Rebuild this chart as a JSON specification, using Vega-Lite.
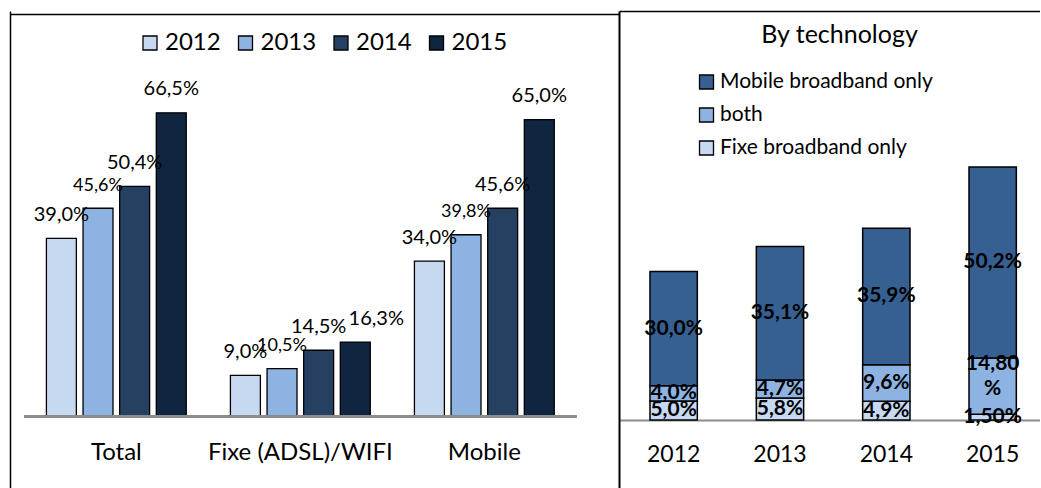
{
  "$schema": "https://vega.github.io/schema/vega-lite/v6.json",
  "padding": {"left": 10, "top": 11, "right": 0, "bottom": 0},
  "autosize": {"type": "pad"},
  "background": "white",
  "config": {
    "font": "Lato",
    "view": {"stroke": null},
    "axis": {"grid": false, "ticks": false, "title": null}
  },
  "datasets": {
    "access": [
      {"category": "Total", "year": "2012", "value": 39.0, "label": "39,0%"},
      {"category": "Total", "year": "2013", "value": 45.6, "label": "45,6%"},
      {"category": "Total", "year": "2014", "value": 50.4, "label": "50,4%"},
      {"category": "Total", "year": "2015", "value": 66.5, "label": "66,5%"},
      {"category": "Fixe (ADSL)/WIFI", "year": "2012", "value": 9.0, "label": "9,0%"},
      {"category": "Fixe (ADSL)/WIFI", "year": "2013", "value": 10.5, "label": "10,5%"},
      {"category": "Fixe (ADSL)/WIFI", "year": "2014", "value": 14.5, "label": "14,5%"},
      {"category": "Fixe (ADSL)/WIFI", "year": "2015", "value": 16.3, "label": "16,3%"},
      {"category": "Mobile", "year": "2012", "value": 34.0, "label": "34,0%"},
      {"category": "Mobile", "year": "2013", "value": 39.8, "label": "39,8%"},
      {"category": "Mobile", "year": "2014", "value": 45.6, "label": "45,6%"},
      {"category": "Mobile", "year": "2015", "value": 65.0, "label": "65,0%"}
    ],
    "tech": [
      {"year": "2012", "type": "Fixe broadband only", "rank": 1, "value": 5.0, "label": "5,0%"},
      {"year": "2012", "type": "both", "rank": 2, "value": 4.0, "label": "4,0%"},
      {"year": "2012", "type": "Mobile broadband only", "rank": 3, "value": 30.0, "label": "30,0%"},
      {"year": "2013", "type": "Fixe broadband only", "rank": 1, "value": 5.8, "label": "5,8%"},
      {"year": "2013", "type": "both", "rank": 2, "value": 4.7, "label": "4,7%"},
      {"year": "2013", "type": "Mobile broadband only", "rank": 3, "value": 35.1, "label": "35,1%"},
      {"year": "2014", "type": "Fixe broadband only", "rank": 1, "value": 4.9, "label": "4,9%"},
      {"year": "2014", "type": "both", "rank": 2, "value": 9.6, "label": "9,6%"},
      {"year": "2014", "type": "Mobile broadband only", "rank": 3, "value": 35.9, "label": "35,9%"},
      {"year": "2015", "type": "Fixe broadband only", "rank": 1, "value": 1.5, "label": "1,50%"},
      {"year": "2015", "type": "both", "rank": 2, "value": 14.8, "label": "14,80\n%"},
      {"year": "2015", "type": "Mobile broadband only", "rank": 3, "value": 50.2, "label": "50,2%"}
    ]
  },
  "hconcat": [
    {
      "width": 609,
      "height": 477,
      "data": {"name": "access"},
      "layer": [
        {
          "mark": {"type": "bar", "stroke": "black", "strokeWidth": 1.3},
          "encoding": {
            "x": {
              "field": "category", "type": "nominal",
              "sort": ["Total", "Fixe (ADSL)/WIFI", "Mobile"],
              "scale": {"paddingInner": 0.24, "paddingOuter": 0.2748, "align": 0.36},
              "axis": {"orient": "top", "offset": -3, "labels": false, "domain": true, "domainColor": "black", "domainWidth": 1.5}
            },
            "xOffset": {
              "field": "year", "type": "nominal",
              "scale": {"paddingInner": 0.182, "paddingOuter": 0}
            },
            "y": {
              "field": "value", "type": "quantitative",
              "scale": {"domain": [-15.66, 88.79], "nice": false, "zero": false},
              "axis": {"orient": "left", "labels": false, "domain": true, "domainColor": "black", "domainWidth": 1.5}
            },
            "color": {
              "field": "year", "type": "nominal",
              "scale": {"domain": ["2012", "2013", "2014", "2015"], "range": ["#c6d9f1", "#8db3e2", "#254061", "#10253f"]},
              "legend": {
                "orient": "none", "legendX": 128, "legendY": 20, "direction": "horizontal",
                "title": null, "symbolType": "square", "symbolSize": 196,
                "symbolStrokeColor": "black", "symbolStrokeWidth": 1.3,
                "labelFontSize": 24, "labelColor": "black", "labelOffset": 3,
                "columnPadding": 12.5
              }
            }
          }
        },
        {
          "transform": [{"filter": "!(datum.category === 'Fixe (ADSL)/WIFI' && datum.year === '2015')"}],
          "mark": {"type": "text", "baseline": "alphabetic", "dy": -17.5, "color": "black"},
          "encoding": {
            "x": {
              "field": "category", "type": "nominal",
              "sort": ["Total", "Fixe (ADSL)/WIFI", "Mobile"],
              "axis": {"orient": "bottom", "offset": -71.5, "domain": false, "labels": true, "labelAngle": 0, "labelFontSize": 24, "labelColor": "black", "labelPadding": 24, "labelLimit": 400}
            },
            "xOffset": {"field": "year", "type": "nominal"},
            "y": {"field": "value", "type": "quantitative", "axis": null},
            "text": {"field": "label"},
            "size": {"condition": {"test": "datum.year === '2013'", "value": 18}, "value": 20}
          }
        },
        {
          "transform": [{"filter": "datum.category === 'Fixe (ADSL)/WIFI' && datum.year === '2015'"}],
          "mark": {"type": "text", "baseline": "alphabetic", "dy": -17.5, "dx": 21, "color": "black", "fontSize": 20},
          "encoding": {
            "x": {"field": "category", "type": "nominal", "sort": ["Total", "Fixe (ADSL)/WIFI", "Mobile"], "axis": null},
            "xOffset": {"field": "year", "type": "nominal"},
            "y": {"field": "value", "type": "quantitative", "axis": null},
            "text": {"field": "label"}
          }
        },
        {
          "mark": {"type": "rule", "color": "#8c8c8c", "strokeWidth": 2, "xOffset": -92, "x2Offset": 92},
          "encoding": {
            "x": {"datum": "Total", "type": "nominal", "axis": null},
            "x2": {"datum": "Mobile"},
            "y": {"datum": 0, "type": "quantitative", "axis": null}
          }
        }
      ],
      "resolve": {"axis": {"x": "independent", "y": "independent"}}
    },
    {
      "width": 421,
      "height": 477,
      "data": {"name": "tech"},
      "title": {"text": "By technology", "fontSize": 25, "fontWeight": "normal", "font": "Lato", "color": "black", "anchor": "middle", "dx": 10, "offset": -37},
      "layer": [
        {
          "mark": {"type": "bar", "stroke": "black", "strokeWidth": 1.5},
          "encoding": {
            "x": {
              "field": "year", "type": "nominal",
              "scale": {"paddingInner": 0.555, "paddingOuter": 0.257, "align": 0.567},
              "axis": {"orient": "bottom", "offset": -68, "domain": true, "domainColor": "#8c8c8c", "domainWidth": 2, "labelFontSize": 23, "labelColor": "black", "labelPadding": 23.5, "labelAngle": 0}
            },
            "y": {
              "field": "value", "type": "quantitative", "stack": "zero",
              "scale": {"domain": [-17.87, 107.46], "nice": false, "zero": false},
              "axis": {"orient": "left", "labels": false, "domain": true, "domainColor": "black", "domainWidth": 2}
            },
            "order": {"field": "rank", "type": "quantitative", "sort": "ascending"},
            "color": {
              "field": "type", "type": "nominal",
              "scale": {"domain": ["Mobile broadband only", "both", "Fixe broadband only"], "range": ["#376092", "#8db3e2", "#c6d9f1"]},
              "legend": {
                "orient": "none", "legendX": 77, "legendY": 60.5, "direction": "vertical",
                "title": null, "symbolType": "square", "symbolSize": 196,
                "symbolStrokeColor": "black", "symbolStrokeWidth": 1.3,
                "labelFontSize": 21, "labelColor": "black", "labelOffset": 3,
                "rowPadding": 11, "labelLimit": 400
              }
            }
          }
        },
        {
          "mark": {"type": "text", "fontWeight": "bold", "fontSize": 21, "color": "black", "baseline": "middle"},
          "encoding": {
            "x": {
              "field": "year", "type": "nominal",
              "axis": {"orient": "top", "labels": false, "domain": true, "domainColor": "black", "domainWidth": 1.5}
            },
            "y": {"field": "value", "type": "quantitative", "stack": "zero", "bandPosition": 0.5, "axis": null},
            "order": {"field": "rank", "type": "quantitative", "sort": "ascending"},
            "detail": {"field": "type"},
            "text": {"condition": {"test": "indexof(datum.label, '\\n') >= 0", "value": ""}, "field": "label"}
          }
        },
        {
          "mark": {"type": "text", "fontWeight": "bold", "fontSize": 21, "color": "black", "baseline": "middle", "lineBreak": "\n", "lineHeight": 25, "dy": -22},
          "encoding": {
            "x": {"field": "year", "type": "nominal", "axis": null},
            "y": {"field": "value", "type": "quantitative", "stack": "zero", "bandPosition": 0.5, "axis": null},
            "order": {"field": "rank", "type": "quantitative", "sort": "ascending"},
            "detail": {"field": "type"},
            "text": {"condition": {"test": "indexof(datum.label, '\\n') >= 0", "field": "label"}, "value": ""}
          }
        }
      ],
      "resolve": {"axis": {"x": "independent", "y": "independent"}}
    }
  ],
  "spacing": 0,
  "resolve": {"scale": {"color": "independent"}, "legend": {"color": "independent"}}
}
